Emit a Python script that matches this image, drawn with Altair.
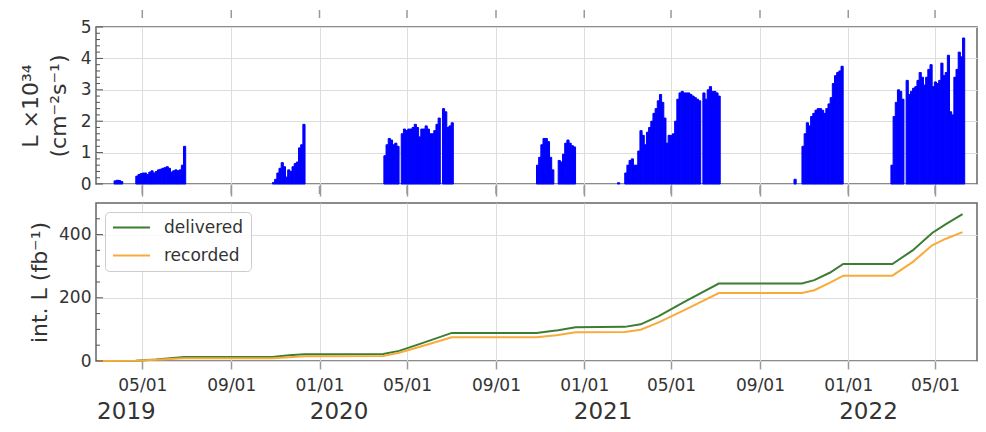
import altair as alt
import pandas as pd

# ---------------- data ----------------
# instantaneous luminosity (x10^34 cm^-2 s^-1), peak value per 3-day bin, per run
BIN_DAYS = 3
run_starts = ["2019-03-23", "2019-04-22", "2019-10-28", "2020-03-30", "2020-10-27",
              "2020-11-26", "2021-02-16", "2021-02-26", "2021-10-18", "2021-10-29", "2022-03-01"]
run_2019_pilot = [0.10, 0.12, 0.11, 0.08]
run_2019_spring = [0.25, 0.30, 0.33, 0.35, 0.35, 0.30, 0.38, 0.42, 0.35, 0.40, 0.45, 0.47,
                   0.50, 0.52, 0.55, 0.50, 0.38, 0.42, 0.45, 0.42, 0.45, 0.60, 1.20]
run_2019_autumn = [0.05, 0.15, 0.35, 0.50, 0.68, 0.55, 0.22, 0.45, 0.40, 0.55, 0.65, 0.70,
                   1.15, 1.25, 1.90]
run_2020_spring = [0.90, 1.25, 1.45, 1.40, 1.25, 1.30, 1.20, 0.0, 1.60, 1.75, 1.70, 1.75,
                   1.75, 1.80, 1.90, 1.80, 1.50, 1.75, 1.75, 1.85, 1.75, 1.60, 1.60, 1.70,
                   1.90, 2.10, 0.0, 2.40, 2.30, 1.80, 1.85, 1.95]
run_2020_autumn_a = [0.60, 0.85, 1.25, 1.45, 1.45, 1.35, 0.85, 0.45]
run_2020_autumn_b = [0.75, 0.70, 0.95, 1.30, 1.40, 1.30, 1.22, 1.18]
run_2021_pilot = [0.04]
run_2021_spring = [0.35, 0.60, 0.75, 0.80, 0.60, 0.60, 1.05, 1.70, 1.55, 1.25, 1.65, 1.80,
                   2.00, 2.25, 2.40, 2.65, 2.85, 2.60, 2.10, 1.30, 1.55, 1.55, 1.60, 2.00,
                   2.70, 2.90, 2.95, 2.90, 2.90, 2.90, 2.85, 2.80, 2.75, 2.70, 2.65, 0.0,
                   2.90, 2.70, 3.00, 3.10, 2.95, 2.95, 2.90, 2.80]
run_2021_pilot_b = [0.15]
run_2021_autumn = [1.20, 1.60, 1.95, 1.85, 2.15, 2.25, 2.35, 2.40, 2.40, 2.35, 2.25, 2.40,
                   2.55, 2.75, 3.20, 3.45, 3.55, 3.60, 3.75]
run_2022_spring = [0.60, 2.15, 2.60, 3.00, 2.95, 2.70, 0.0, 3.30, 2.85, 2.95, 3.05, 3.10,
                   3.30, 3.55, 3.40, 3.15, 3.40, 3.65, 3.80, 3.10, 3.25, 3.20, 3.30, 3.85,
                   3.45, 3.55, 4.10, 2.30, 2.20, 3.40, 3.65, 4.20, 4.05, 4.65]
run_values = [run_2019_pilot, run_2019_spring, run_2019_autumn, run_2020_spring,
              run_2020_autumn_a, run_2020_autumn_b, run_2021_pilot, run_2021_spring,
              run_2021_pilot_b, run_2021_autumn, run_2022_spring]

# integrated luminosity (fb^-1)
int_dates = ["2019-03-01", "2019-04-22", "2019-05-20", "2019-06-28", "2019-10-28", "2019-11-20",
             "2019-12-11", "2020-03-29", "2020-04-20", "2020-05-20", "2020-07-02", "2020-10-27",
             "2020-11-20", "2020-11-26", "2020-12-20", "2021-02-26", "2021-03-20", "2021-04-14",
             "2021-05-20", "2021-07-06", "2021-10-29", "2021-11-15", "2021-12-07", "2021-12-25",
             "2022-03-03", "2022-03-31", "2022-04-27", "2022-05-16", "2022-06-08"]
delivered = [0, 1, 5, 13, 13, 18, 21, 22, 32, 55, 89, 89, 96, 97, 107, 108, 116, 142,
             188, 245, 245, 256, 280, 307, 307, 350, 405, 433, 465]
recorded = [0, 1, 4, 9, 9, 12, 15, 16, 26, 46, 75, 75, 81, 82, 91, 92, 99, 122,
            162, 215, 215, 224, 248, 270, 270, 313, 366, 387, 408]

x_domain = ["2019-02-26", "2022-06-28"]
x_tick_dates = ["2019-05-01", "2019-09-01", "2020-01-01", "2020-05-01", "2020-09-01",
                "2021-01-01", "2021-05-01", "2021-09-01", "2022-01-01", "2022-05-01"]
year_labels = ["2019", "2020", "2021", "2022"]
year_label_dates = ["2019-04-09", "2020-01-28", "2021-01-27", "2022-01-29"]

top_major = [0, 1, 2, 3, 4, 5]
top_minor = [0.2, 0.4, 0.6, 0.8, 1.2, 1.4, 1.6, 1.8, 2.2, 2.4, 2.6, 2.8,
             3.2, 3.4, 3.6, 3.8, 4.2, 4.4, 4.6, 4.8]
bot_major = [0, 200, 400]
bot_minor = [50, 100, 150, 250, 300, 350, 450]

# ---------------- tables ----------------
rows = []
for start, vals in zip(run_starts, run_values):
    s = pd.Timestamp(start)
    for i, v in enumerate(vals):
        if v > 0:
            rows.append({"start": s + pd.Timedelta(days=BIN_DAYS * i),
                         "end": s + pd.Timedelta(days=BIN_DAYS * (i + 1)),
                         "lumi": v})
lumi_df = pd.DataFrame(rows)

int_df = pd.concat([
    pd.DataFrame({"date": pd.to_datetime(int_dates), "value": delivered, "series": "delivered"}),
    pd.DataFrame({"date": pd.to_datetime(int_dates), "value": recorded, "series": "recorded"}),
])
ticks_df = pd.DataFrame({"date": pd.to_datetime(x_tick_dates)})
years_df = pd.DataFrame({"date": pd.to_datetime(year_label_dates), "label": year_labels})


def dt(s):
    return alt.DateTime(year=int(s[:4]), month=int(s[5:7]), date=int(s[8:10]))


tick_values = [dt(d) for d in x_tick_dates]
x_scale = alt.Scale(domain=[dt(x_domain[0]), dt(x_domain[1])])

FONT = "DejaVu Sans"
TXT = "#333333"
W = 881

x_axis_top_panel = alt.Axis(values=tick_values, labels=False, title=None, tickSize=12,
                            grid=True, domain=False, tickColor="#999999", tickWidth=1.5)
x_axis_bot_panel = alt.Axis(values=tick_values, format="%m/%d", title=None, tickSize=8,
                            labelPadding=8, grid=True, domain=False, tickColor="#999999",
                            tickWidth=1.5)


def top_ticks(axis):
    # small tick marks floating above each panel's frame, at the x tick dates
    return alt.Chart(ticks_df).mark_rule(color="#999999", strokeWidth=1.5).encode(
        x=alt.X("date:T", scale=x_scale, axis=axis),
        y=alt.value(-17), y2=alt.value(-9))


# ---------------- top panel ----------------
y_top_scale = alt.Scale(domain=[0, 5], nice=False)
y_top_axis = alt.Axis(values=top_major, title=["L ×10³⁴", "(cm⁻²s⁻¹)"], ticks=False,
                      labelPadding=5, titlePadding=10, grid=True, domain=False,
                      titleLineHeight=28)

bars = alt.Chart(lumi_df).mark_bar(color="#0000ff", stroke="#0000ff", strokeWidth=1.0).encode(
    x=alt.X("start:T", scale=x_scale, axis=x_axis_top_panel),
    x2="end:T",
    y=alt.Y("lumi:Q", scale=y_top_scale, axis=y_top_axis),
    y2=alt.datum(0),
)
top_minor_ticks = alt.Chart(pd.DataFrame({"v": top_minor})).mark_rule(
    color="#555555", strokeWidth=1).encode(
    y=alt.Y("v:Q", scale=y_top_scale, axis=y_top_axis), x=alt.value(0), x2=alt.value(4))
top_major_ticks = alt.Chart(pd.DataFrame({"v": top_major})).mark_rule(
    color="#555555", strokeWidth=1).encode(
    y=alt.Y("v:Q", scale=y_top_scale, axis=y_top_axis), x=alt.value(0), x2=alt.value(7))

top = alt.layer(bars, top_minor_ticks, top_major_ticks, top_ticks(x_axis_top_panel)).properties(
    width=W, height=157)

# ---------------- bottom panel ----------------
y_bot_scale = alt.Scale(domain=[0, 500], nice=False)
y_bot_axis = alt.Axis(values=bot_major, title="int. L (fb⁻¹)", ticks=False,
                      labelPadding=5, titlePadding=7, grid=True, domain=False)

lines = alt.Chart(int_df).mark_line(strokeWidth=2).encode(
    x=alt.X("date:T", scale=x_scale, axis=x_axis_bot_panel),
    y=alt.Y("value:Q", scale=y_bot_scale, axis=y_bot_axis),
    color=alt.Color("series:N",
                    scale=alt.Scale(domain=["delivered", "recorded"], range=["#3d7d33", "#f8ab3a"]),
                    legend=alt.Legend(title=None, orient="top-left", offset=9, padding=7,
                                      fillColor="rgba(255,255,255,0.85)", strokeColor="#cccccc",
                                      cornerRadius=4, symbolType="stroke", symbolSize=1369,
                                      symbolStrokeWidth=2, labelFontSize=17, labelOffset=13,
                                      rowPadding=10, clipHeight=17, labelColor=TXT,
                                      labelFont=FONT)),
)
bot_minor_ticks = alt.Chart(pd.DataFrame({"v": bot_minor})).mark_rule(
    color="#555555", strokeWidth=1).encode(
    y=alt.Y("v:Q", scale=y_bot_scale, axis=y_bot_axis), x=alt.value(0), x2=alt.value(4))
bot_major_ticks = alt.Chart(pd.DataFrame({"v": bot_major})).mark_rule(
    color="#555555", strokeWidth=1).encode(
    y=alt.Y("v:Q", scale=y_bot_scale, axis=y_bot_axis), x=alt.value(0), x2=alt.value(7))
years = alt.Chart(years_df).mark_text(fontSize=23, font=FONT, color=TXT, baseline="middle").encode(
    x=alt.X("date:T", scale=x_scale, axis=x_axis_bot_panel), y=alt.value(209), text="label:N")

bottom = alt.layer(lines, bot_minor_ticks, bot_major_ticks, years,
                   top_ticks(x_axis_bot_panel)).properties(width=W, height=158)

chart = alt.vconcat(top, bottom, spacing=19, bounds="flush").resolve_legend(
    color="independent"
).properties(
    padding={"left": 10, "top": 0, "right": 0, "bottom": 0}
).configure_view(stroke="#666666", strokeWidth=1.5).configure_axis(
    labelFont=FONT, titleFont=FONT, labelFontSize=17, titleFontSize=22, labelColor=TXT,
    titleColor=TXT, titleFontWeight="normal", gridColor="#dddddd", gridWidth=1
)

chart.save("out.html", embed_options={"renderer": "svg", "actions": False})
